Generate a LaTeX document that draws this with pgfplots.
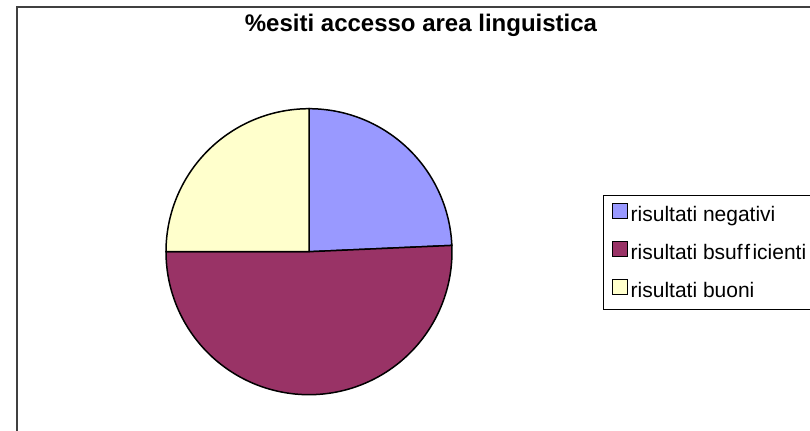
\documentclass[border=0pt]{standalone}
\usepackage{fontspec}
\setmainfont{Liberation Sans}
\usepackage{pgfplots}
\pgfplotsset{compat=1.18}
\definecolor{cneg}{HTML}{9999FF}
\definecolor{cbsu}{HTML}{993366}
\definecolor{cbuo}{HTML}{FFFFCC}
\definecolor{cframe}{HTML}{404040}
% percentages of the three slices
\def\vneg{24.3}
\def\vbsu{50.7}
\def\vbuo{25.0}
\begin{document}
\begin{tikzpicture}
\useasboundingbox (0,0) rectangle (405pt,215pt);
\begin{scope}
\clip (0,0) rectangle (405pt,215pt);
\fill[white] (0,0) rectangle (405pt,215pt);
\draw[cframe, line width=0.8pt] (8.5pt,211.5pt) rectangle (430pt,-20pt);
\pgfmathsetmacro\aA{90}
\pgfmathsetmacro\aB{90-3.6*\vneg}
\pgfmathsetmacro\aC{\aB-3.6*\vbsu}
\pgfmathsetmacro\aD{\aC-3.6*\vbuo}
\begin{axis}[
  at={(154.5pt,89.15pt)}, anchor=origin,
  x=71.5pt, y=71.5pt,
  xmin=-1, xmax=1, ymin=-1, ymax=1,
  enlargelimits=false, hide axis, clip=false,
  title={\bfseries\%esiti accesso area linguistica},
  title style={at={(axis description cs:0.8916,1.2297)}, anchor=base,
    font=\fontsize{12}{14}\selectfont, inner sep=0pt},
  legend style={at={(axis description cs:1.528,0.698)}, anchor=north west,
    draw=black, line width=0.5pt, font=\fontsize{10.5}{12}\selectfont,
    inner xsep=4pt, inner ysep=3.5pt, row sep=7pt,
    nodes={inner xsep=1.5pt, inner ysep=0pt, text height=7.5pt, text depth=2.5pt}},
  legend cell align=left,
  legend image code/.code={\draw[#1, draw=black, line width=0.6pt] (0pt,-0.75pt) rectangle (7.5pt,6.75pt);},
]
\addplot[fill=cneg, draw=black, line width=0.75pt, domain=\aB:\aA, samples=80, smooth] ({cos(x)},{sin(x)}) -- (0,0) -- cycle;
\addlegendentry{risultati negativi}
\addplot[fill=cbsu, draw=black, line width=0.75pt, domain=\aC:\aB, samples=120, smooth] ({cos(x)},{sin(x)}) -- (0,0) -- cycle;
\addlegendentry{risultati bsuf\kern0.8pt f\kern1.2pt icienti}
\addplot[fill=cbuo, draw=black, line width=0.75pt, domain=\aD:\aC, samples=80, smooth] ({cos(x)},{sin(x)}) -- (0,0) -- cycle;
\addlegendentry{risultati buoni}
\end{axis}
\end{scope}
\end{tikzpicture}
\end{document}
